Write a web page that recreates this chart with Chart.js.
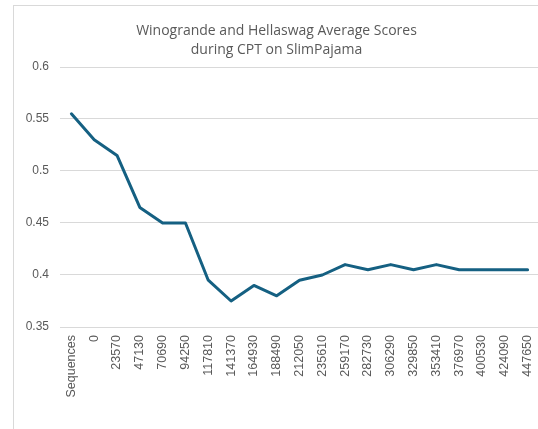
<!DOCTYPE html>
<html>
<head>
<meta charset="utf-8">
<script src="https://cdn.jsdelivr.net/npm/chart.js@4"></script>
<style>
html,body{margin:0;padding:0;background:#fff;overflow:hidden;width:538px;height:429px;}
#frame{position:absolute;left:13px;top:5px;width:540px;height:440px;border-left:1px solid #d9d9d9;border-top:1px solid #d9d9d9;}
#c{position:absolute;left:0;top:0;}
</style>
</head>
<body>
<div id="frame"><canvas id="c" width="525" height="423" style="width:525px;height:423px"></canvas></div>
<script>
const categories = ["Sequences","0","23570","47130","70690","94250","117810","141370","164930","188490","212050","235610","259170","282730","306290","329850","353410","376970","400530","424090","447650"];
const scores = [0.555,0.53,0.515,0.465,0.45,0.45,0.395,0.375,0.39,0.38,0.395,0.40,0.41,0.405,0.41,0.405,0.41,0.405,0.405,0.405,0.405];
const yTicks = {min:0.35, max:0.6, step:0.05};
const titleLines = ["Winogrande and Hellaswag Average Scores","during CPT on SlimPajama"];

new Chart(document.getElementById('c'), {
  type: 'line',
  data: {
    labels: categories,
    datasets: [{
      label: 'Average',
      data: scores,
      borderColor: '#156082',
      backgroundColor: '#156082',
      borderWidth: 3,
      pointRadius: 0,
      tension: 0,
      borderJoinStyle: 'round',
      borderCapStyle: 'round'
    }]
  },
  options: {
    responsive: false,
    animation: false,
    layout: {padding: {left: 0, right: 0, top: 0, bottom: 0}},
    plugins: {
      legend: {display: false},
      tooltip: {enabled: false},
      title: {
        display: true,
        text: titleLines,
        color: '#595959',
        font: {family: 'Open Sans', size: 14, weight: 'normal', lineHeight: 1.35},
        padding: {top: 15.5, bottom: 7.7}
      }
    },
    scales: {
      x: {
        offset: true,
        grid: {display: false, drawTicks: false},
        border: {display: true, color: '#d9d9d9', width: 1},
        ticks: {
          autoSkip: false, maxRotation: 90, minRotation: 90, padding: 8,
          color: '#595959', font: {family: 'Liberation Sans', size: 12.5}
        },
        afterFit: s => { s.height = 102; s.paddingRight = 0; s.paddingLeft = 0; }
      },
      y: {
        min: yTicks.min, max: yTicks.max,
        grid: {color: '#d9d9d9', lineWidth: 1, drawTicks: false},
        border: {display: false},
        ticks: {
          stepSize: yTicks.step, padding: 11,
          color: '#595959', font: {family: 'Liberation Sans', size: 12},
          callback: v => String(Number(v.toFixed(2)))
        },
        afterFit: s => { s.width = 46; }
      }
    }
  }
});
</script>
</body>
</html>
